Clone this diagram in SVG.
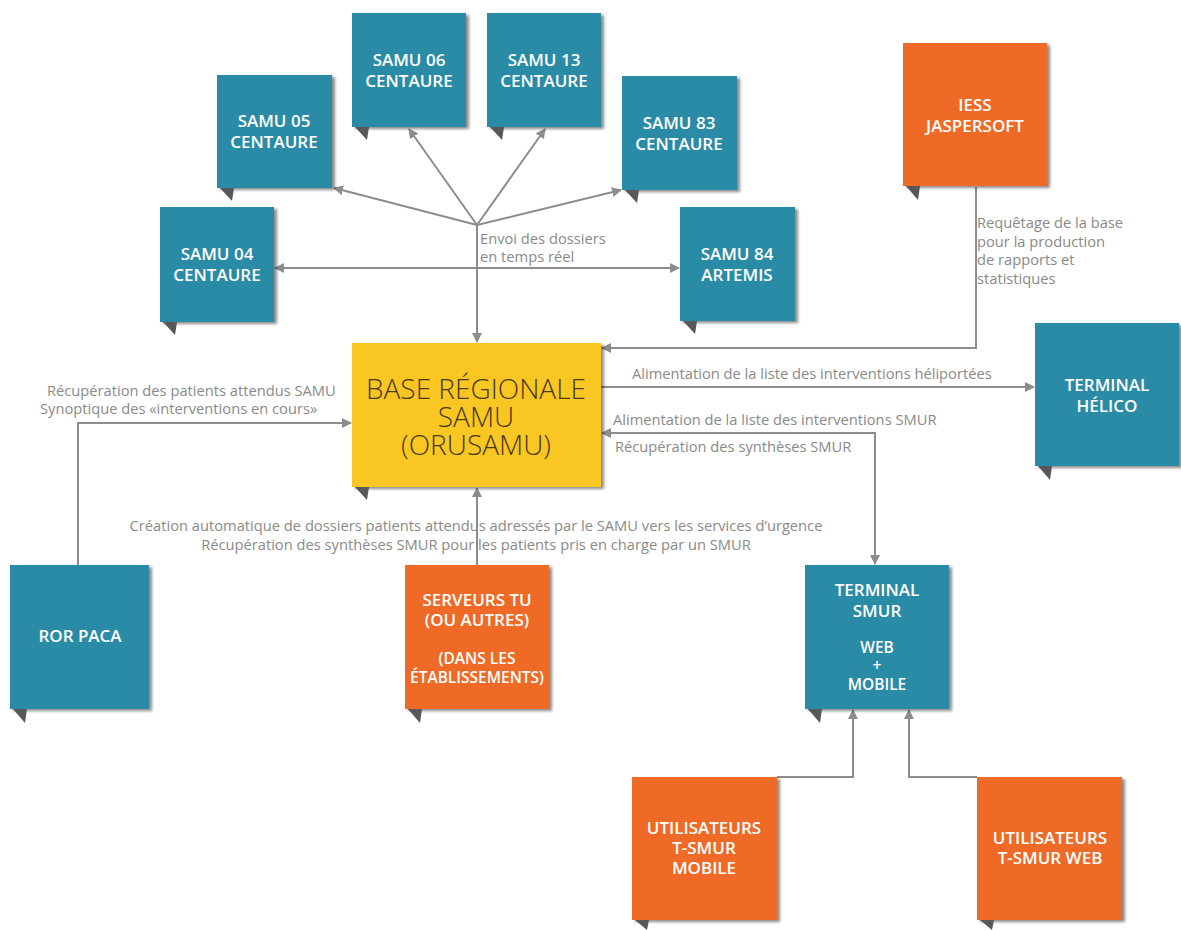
<svg xmlns="http://www.w3.org/2000/svg" width="1181" height="930" viewBox="0 0 1181 930">
<defs>
<style>
.teal{fill:#2a8ba6}
.orange{fill:#ee6a28}
.yellow{fill:#f9c623}
.tail{fill:#58585c}
.nt{font-family:"Open Sans","Liberation Sans",sans-serif;font-weight:600;font-size:17px;fill:#ffffff;text-anchor:middle}
.sm{font-size:15.5px}
.md{font-size:15.5px}
.bt{font-family:"Open Sans","Liberation Sans",sans-serif;font-weight:300;font-size:28px;fill:#4a3a1a;text-anchor:middle}
.lb{font-family:"Open Sans","Liberation Sans",sans-serif;font-size:14.7px;fill:#8a8a8a}
.ln{fill:none;stroke:#8c8c8c;stroke-width:2}
</style>
<filter id="sh" x="-10%" y="-10%" width="130%" height="130%">
<feDropShadow dx="3" dy="2" stdDeviation="1.8" flood-color="#000" flood-opacity="0.45"/>
</filter>
<marker id="ar" viewBox="0 0 10 10" refX="9" refY="5" markerWidth="10" markerHeight="10" markerUnits="userSpaceOnUse" orient="auto-start-reverse">
<path d="M0,0 L10,5 L0,10 z" fill="#8c8c8c"/>
</marker>
</defs>
<rect width="1181" height="930" fill="#ffffff"/>

<g id="connectors">
<line class="ln" x1="477" y1="225" x2="334" y2="188" marker-end="url(#ar)"/>
<line class="ln" x1="477" y1="225" x2="409" y2="129" marker-end="url(#ar)"/>
<line class="ln" x1="477" y1="225" x2="545" y2="129" marker-end="url(#ar)"/>
<line class="ln" x1="477" y1="225" x2="621" y2="190" marker-end="url(#ar)"/>
<line class="ln" x1="275" y1="268" x2="679" y2="268" marker-start="url(#ar)" marker-end="url(#ar)"/>
<line class="ln" x1="477" y1="225" x2="477" y2="342" marker-end="url(#ar)"/>
<polyline class="ln" points="976,187 976,348 602,348" marker-end="url(#ar)"/>
<line class="ln" x1="601" y1="387" x2="1034" y2="387" marker-end="url(#ar)"/>
<polyline class="ln" points="602,433 875,433 875,564" marker-start="url(#ar)" marker-end="url(#ar)"/>
<polyline class="ln" points="78,565 78,423 351,423" marker-end="url(#ar)"/>
<line class="ln" x1="477" y1="565" x2="477" y2="488" marker-end="url(#ar)"/>
<polyline class="ln" points="777,777 853,777 853,710" marker-end="url(#ar)"/>
<polyline class="ln" points="977,777 909,777 909,710" marker-end="url(#ar)"/>
<text class="lb" x="480" y="244">Envoi des dossiers</text>
<text class="lb" x="480" y="262">en temps réel</text>
<text class="lb" x="977" y="228">Requêtage de la base</text>
<text class="lb" x="977" y="247">pour la production</text>
<text class="lb" x="977" y="265">de rapports et</text>
<text class="lb" x="977" y="284">statistiques</text>
<text class="lb" x="632" y="379">Alimentation de la liste des interventions héliportées</text>
<text class="lb" x="613" y="425">Alimentation de la liste des interventions SMUR</text>
<text class="lb" x="615" y="452">Récupération des synthèses SMUR</text>
<text class="lb" x="47" y="396">Récupération des patients attendus SAMU</text>
<text class="lb" x="40" y="414">Synoptique des «interventions en cours»</text>
<text class="lb" x="476" y="531" text-anchor="middle">Création automatique de dossiers patients attendus adressés par le SAMU vers les services d’urgence</text>
<text class="lb" x="476" y="550" text-anchor="middle">Récupération des synthèses SMUR pour les patients pris en charge par un SMUR</text>
</g>

<g id="samu06">
<rect class="teal" x="352" y="13" width="114" height="114" filter="url(#sh)"/>
<polygon class="tail" points="355,127 369,127 367,140"/>
<text class="nt" x="409" y="66">SAMU 06</text><text class="nt" x="409" y="87">CENTAURE</text>
</g>
<g id="samu13">
<rect class="teal" x="487" y="13" width="114" height="114" filter="url(#sh)"/>
<polygon class="tail" points="490,127 504,127 502,140"/>
<text class="nt" x="544" y="66">SAMU 13</text><text class="nt" x="544" y="87">CENTAURE</text>
</g>
<g id="samu05">
<rect class="teal" x="217" y="75" width="115" height="113" filter="url(#sh)"/>
<polygon class="tail" points="220,188 234,188 232,201"/>
<text class="nt" x="274" y="127">SAMU 05</text><text class="nt" x="274" y="148">CENTAURE</text>
</g>
<g id="samu83">
<rect class="teal" x="622" y="76" width="115" height="114" filter="url(#sh)"/>
<polygon class="tail" points="625,190 639,190 637,203"/>
<text class="nt" x="679" y="129">SAMU 83</text><text class="nt" x="679" y="150">CENTAURE</text>
</g>
<g id="samu04">
<rect class="teal" x="160" y="207" width="114" height="115" filter="url(#sh)"/>
<polygon class="tail" points="163,322 177,322 175,335"/>
<text class="nt" x="217" y="260">SAMU 04</text><text class="nt" x="217" y="281">CENTAURE</text>
</g>
<g id="samu84">
<rect class="teal" x="680" y="207" width="115" height="114" filter="url(#sh)"/>
<polygon class="tail" points="683,321 697,321 695,334"/>
<text class="nt" x="737" y="260">SAMU 84</text><text class="nt" x="737" y="281">ARTEMIS</text>
</g>
<g id="iess">
<rect class="orange" x="903" y="43" width="144" height="143" filter="url(#sh)"/>
<polygon class="tail" points="906,186 920,186 918,200"/>
<text class="nt" x="975" y="111">IESS</text><text class="nt" x="975" y="132">JASPERSOFT</text>
</g>
<g id="base">
<rect class="yellow" x="352" y="343" width="249" height="144" filter="url(#sh)"/>
<polygon class="tail" points="355,487 369,487 367,500"/>
<text class="bt" x="476" y="399">BASE RÉGIONALE</text>
<text class="bt" x="476" y="427">SAMU</text>
<text class="bt" x="476" y="455">(ORUSAMU)</text>
</g>
<g id="helico">
<rect class="teal" x="1035" y="323" width="144" height="143" filter="url(#sh)"/>
<polygon class="tail" points="1038,466 1052,466 1050,480"/>
<text class="nt" x="1107" y="391">TERMINAL</text><text class="nt" x="1107" y="412">HÉLICO</text>
</g>
<g id="ror">
<rect class="teal" x="10" y="565" width="139" height="144" filter="url(#sh)"/>
<polygon class="tail" points="13,709 27,709 25,723"/>
<text class="nt" x="80" y="642">ROR PACA</text>
</g>
<g id="serveurs">
<rect class="orange" x="405" y="565" width="144" height="144" filter="url(#sh)"/>
<polygon class="tail" points="408,709 422,709 420,723"/>
<text class="nt" x="477" y="606">SERVEURS TU</text>
<text class="nt" x="477" y="626">(OU AUTRES)</text>
<text class="nt md" x="477" y="664">(DANS LES</text>
<text class="nt md" x="477" y="683">ÉTABLISSEMENTS)</text>
</g>
<g id="terminal-smur">
<rect class="teal" x="805" y="565" width="144" height="144" filter="url(#sh)"/>
<polygon class="tail" points="808,709 822,709 820,723"/>
<text class="nt" x="877" y="596">TERMINAL</text>
<text class="nt" x="877" y="617">SMUR</text>
<text class="nt sm" x="877" y="653">WEB</text>
<text class="nt sm" x="877" y="671">+</text>
<text class="nt sm" x="877" y="690">MOBILE</text>
</g>
<g id="util-mobile">
<rect class="orange" x="632" y="777" width="145" height="143" filter="url(#sh)"/>
<polygon class="tail" points="635,920 649,920 647,930"/>
<text class="nt" x="704" y="834">UTILISATEURS</text>
<text class="nt" x="704" y="854">T-SMUR</text>
<text class="nt" x="704" y="874">MOBILE</text>
</g>
<g id="util-web">
<rect class="orange" x="977" y="777" width="145" height="143" filter="url(#sh)"/>
<polygon class="tail" points="980,920 994,920 992,930"/>
<text class="nt" x="1050" y="844">UTILISATEURS</text>
<text class="nt" x="1050" y="864">T-SMUR WEB</text>
</g>
</svg>
